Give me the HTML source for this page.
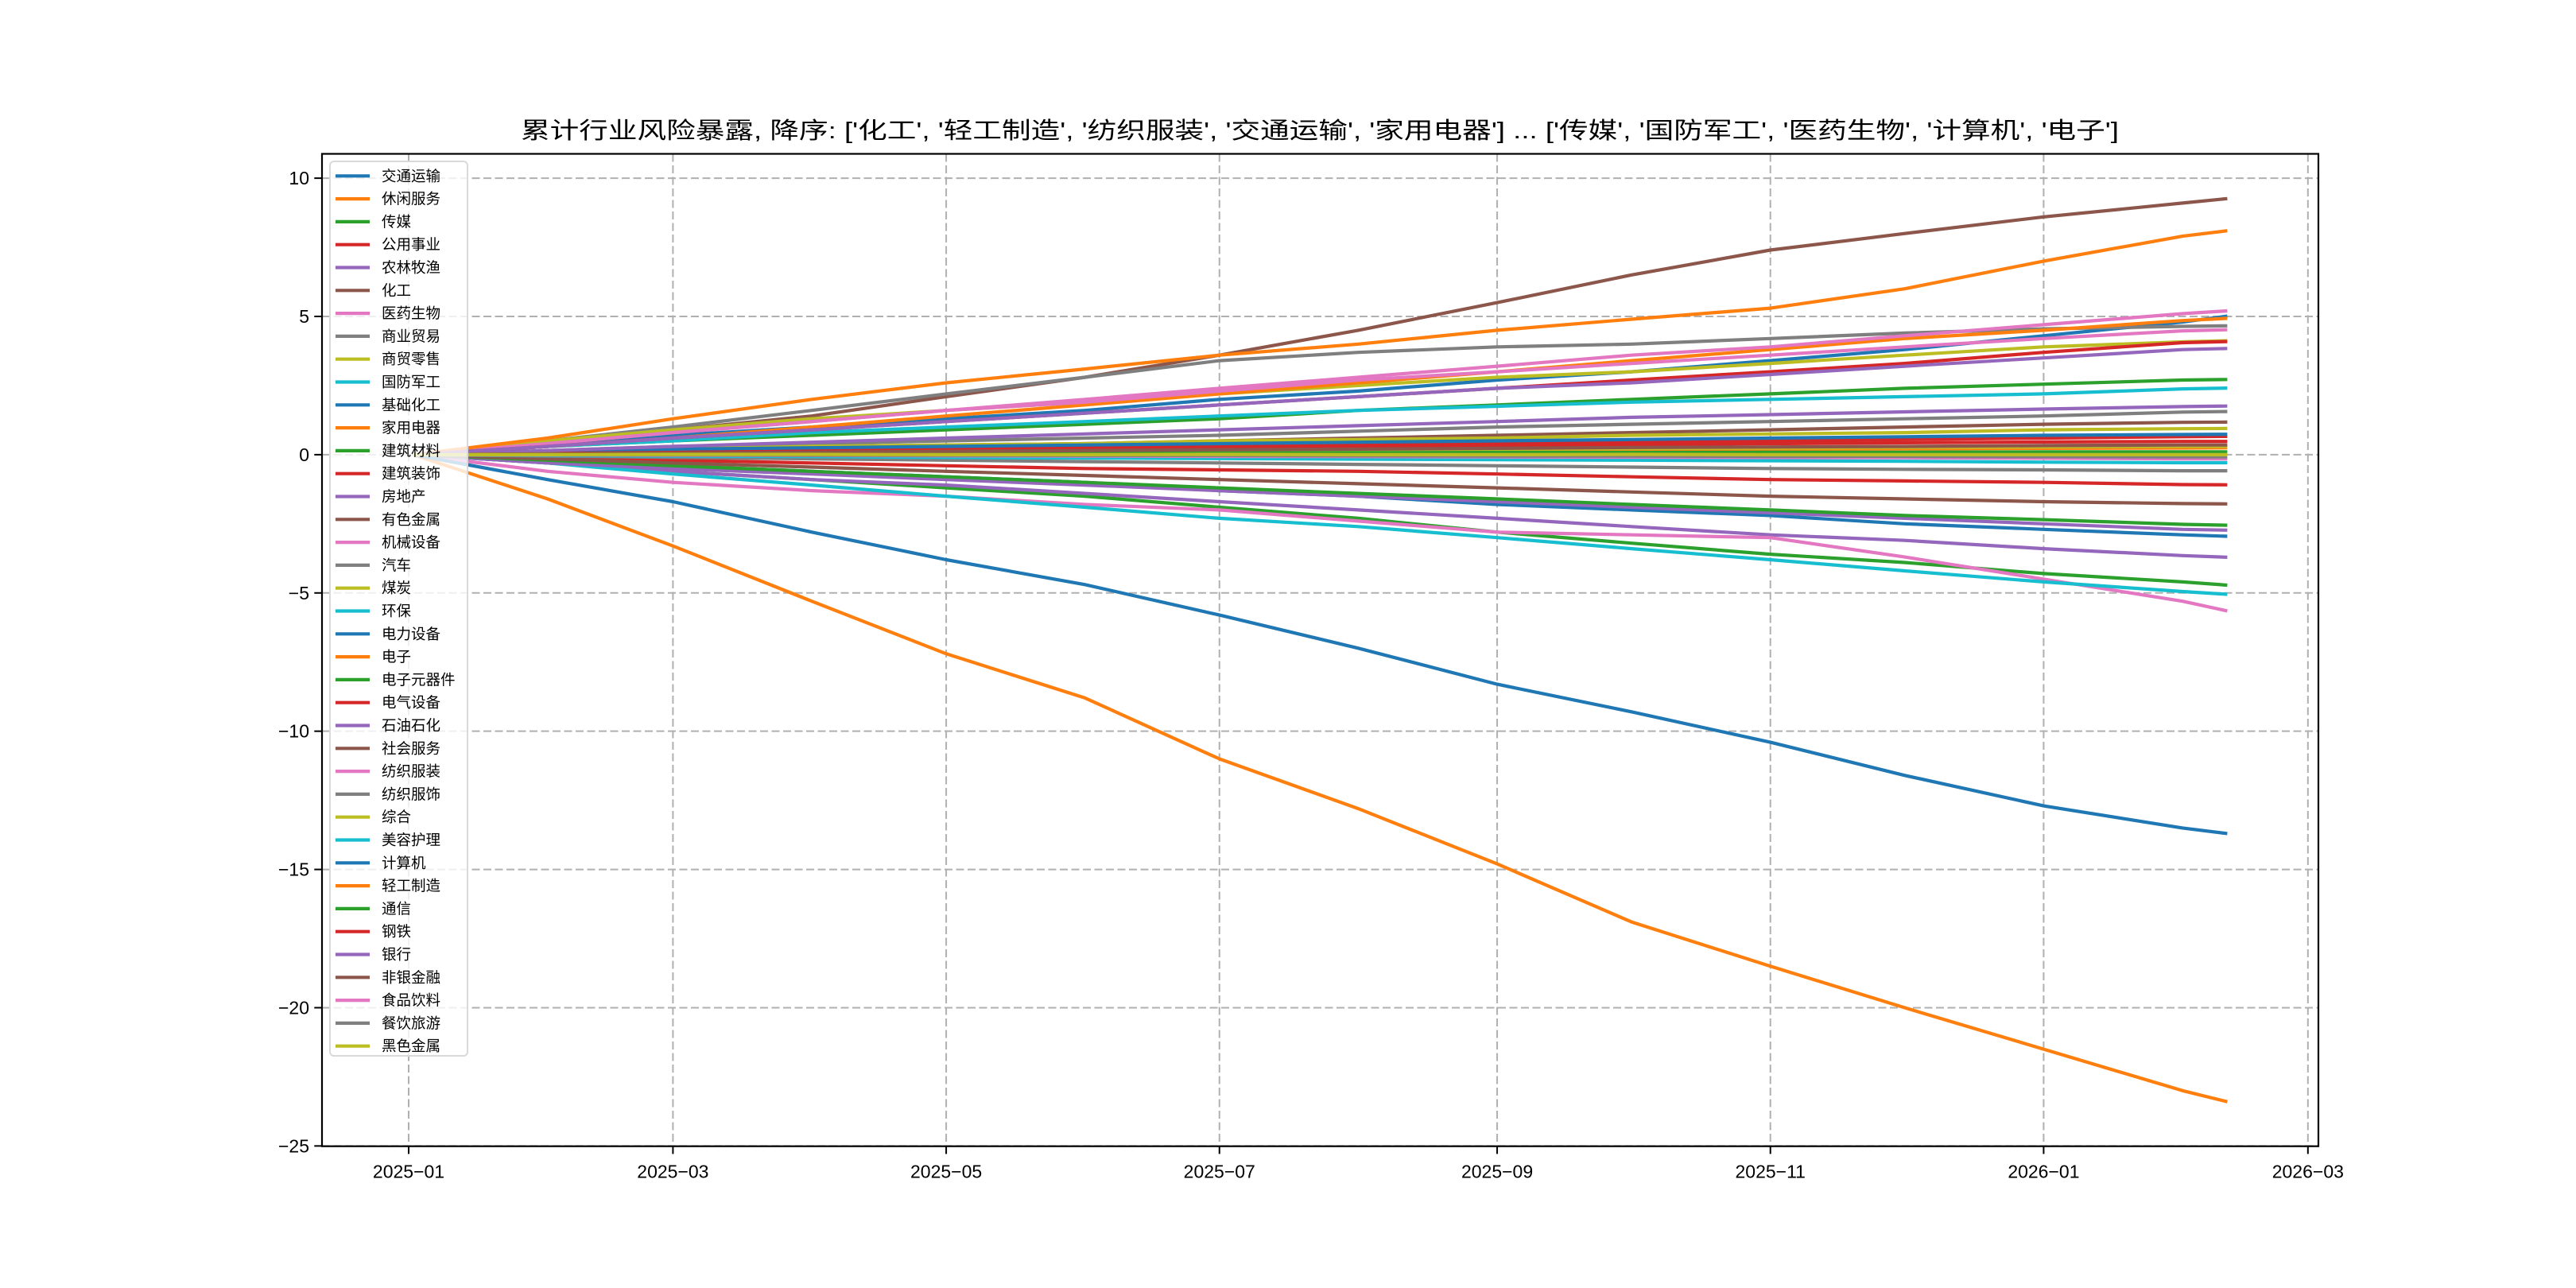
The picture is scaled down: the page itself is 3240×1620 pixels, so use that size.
<!DOCTYPE html>
<html><head><meta charset="utf-8"><title>累计行业风险暴露</title>
<style>
html,body{margin:0;padding:0;background:#fff;}
svg{display:block;font-family:"Liberation Sans","Noto Sans CJK SC","WenQuanYi Zen Hei",sans-serif;}
</style></head>
<body>
<svg id="chart" width="3240" height="1620" viewBox="0 0 3240 1620" xmlns="http://www.w3.org/2000/svg">
<rect x="0" y="0" width="3240" height="1620" fill="#fff"/>
<text x="1660" y="174" text-anchor="middle" font-size="29" textLength="2010" lengthAdjust="spacingAndGlyphs" fill="#000">累计行业风险暴露, 降序: ['化工', '轻工制造', '纺织服装', '交通运输', '家用电器'] ... ['传媒', '国防军工', '医药生物', '计算机', '电子']</text>
<g id="grid"></g>
<g id="lines"></g>
<g id="axes"></g>
<g id="legend"></g>
</svg>
<script>
const dates = ["2025-01-02","2025-02-01","2025-03-01","2025-04-01","2025-05-01","2025-06-01","2025-07-01","2025-08-01","2025-09-01","2025-10-01","2025-11-01","2025-12-01","2026-01-01","2026-02-01","2026-02-11"];
const names = ["交通运输","休闲服务","传媒","公用事业","农林牧渔","化工","医药生物","商业贸易","商贸零售","国防军工","基础化工","家用电器","建筑材料","建筑装饰","房地产","有色金属","机械设备","汽车","煤炭","环保","电力设备","电子","电子元器件","电气设备","石油石化","社会服务","纺织服装","纺织服饰","综合","美容护理","计算机","轻工制造","通信","钢铁","银行","非银金融","食品饮料","餐饮旅游","黑色金属"];
const s00 = [0,.3,.7,1.0,1.3,1.6,2.0,2.3,2.7,3.0,3.4,3.8,4.3,4.8,5.01];
const s01 = [0,.02,.04,.06,.08,.1,.12,.14,.16,.17,.19,.21,.23,.24,.25];
const s02 = [0,-.3,-.6,-.9,-1.2,-1.5,-1.9,-2.3,-2.8,-3.2,-3.6,-3.9,-4.3,-4.6,-4.72];
const s03 = [0,-.1,-.2,-.3,-.4,-.5,-.55,-.6,-.7,-.8,-.9,-.95,-1.0,-1.08,-1.09];
const s04 = [0,-.3,-.6,-.9,-1.1,-1.4,-1.7,-2.0,-2.3,-2.6,-2.9,-3.1,-3.4,-3.65,-3.71];
const s05 = [0,.4,.9,1.4,2.1,2.8,3.6,4.5,5.5,6.5,7.4,8.0,8.6,9.1,9.26];
const s06 = [0,-.6,-1.0,-1.3,-1.5,-1.8,-2.0,-2.4,-2.8,-2.9,-3.0,-3.7,-4.5,-5.3,-5.65];
const s07 = [0,.5,1.0,1.6,2.2,2.8,3.4,3.7,3.9,4.0,4.2,4.4,4.55,4.64,4.66];
const s08 = [0,.5,.9,1.3,1.6,1.9,2.2,2.5,2.8,3.0,3.3,3.6,3.9,4.08,4.12];
const s09 = [0,-.3,-.7,-1.1,-1.5,-1.9,-2.3,-2.6,-3.0,-3.4,-3.8,-4.2,-4.6,-4.95,-5.05];
const s10 = [0,-.2,-.4,-.6,-.8,-1.0,-1.3,-1.5,-1.8,-2.0,-2.2,-2.5,-2.7,-2.9,-2.95];
const s11 = [0,.3,.6,1.0,1.4,1.8,2.2,2.6,3.0,3.4,3.8,4.2,4.5,4.85,4.93];
const s12 = [0,.3,.5,.7,.9,1.1,1.3,1.6,1.8,2.0,2.2,2.4,2.55,2.7,2.72];
const s13 = [0,.05,.1,.15,.2,.25,.3,.35,.4,.45,.5,.55,.6,.65,.66];
const s14 = [0,-.3,-.5,-.7,-.9,-1.1,-1.3,-1.5,-1.7,-1.9,-2.1,-2.3,-2.5,-2.7,-2.73];
const s15 = [0,.1,.2,.3,.35,.4,.5,.6,.7,.8,.9,1.0,1.1,1.17,1.18];
const s16 = [0,.4,.8,1.2,1.6,1.9,2.3,2.7,3.0,3.3,3.6,3.9,4.2,4.48,4.52];
const s17 = [0,.15,.3,.4,.5,.6,.7,.85,1.0,1.1,1.2,1.3,1.4,1.54,1.56];
const s18 = [0,.1,.2,.3,.35,.4,.5,.55,.6,.7,.75,.8,.9,.94,.95];
const s19 = [0,.3,.5,.8,1.0,1.2,1.4,1.6,1.75,1.9,2.0,2.1,2.2,2.38,2.41];
const s20 = [0,.1,.2,.25,.3,.35,.4,.45,.5,.55,.6,.65,.7,.73,.74];
const s21 = [0,-1.6,-3.3,-5.3,-7.2,-8.8,-11.0,-12.8,-14.8,-16.9,-18.5,-20.0,-21.5,-23.0,-23.4];
const s22 = [0,-.2,-.4,-.6,-.8,-1.0,-1.2,-1.4,-1.6,-1.8,-2.0,-2.2,-2.35,-2.52,-2.55];
const s23 = [0,.05,.08,.12,.16,.2,.24,.28,.32,.36,.4,.43,.46,.48,.48];
const s24 = [0,.15,.3,.45,.6,.75,.9,1.05,1.2,1.35,1.45,1.55,1.65,1.74,1.76];
const s25 = [0,-.15,-.3,-.45,-.6,-.75,-.9,-1.05,-1.2,-1.35,-1.5,-1.6,-1.7,-1.77,-1.78];
const s26 = [0,.4,.8,1.2,1.6,2.0,2.4,2.8,3.2,3.6,3.9,4.3,4.7,5.1,5.2];
const s27 = [0,-.05,-.1,-.15,-.2,-.25,-.3,-.35,-.4,-.45,-.5,-.53,-.55,-.58,-.58];
const s28 = [0,.03,.05,.08,.1,.12,.15,.17,.2,.22,.24,.26,.28,.3,.3];
const s29 = [0,-.03,-.05,-.07,-.1,-.12,-.14,-.16,-.18,-.2,-.22,-.24,-.27,-.29,-.29];
const s30 = [0,-.9,-1.7,-2.8,-3.8,-4.7,-5.8,-7.0,-8.3,-9.3,-10.4,-11.6,-12.7,-13.5,-13.7];
const s31 = [0,.6,1.3,2.0,2.6,3.1,3.6,4.0,4.5,4.9,5.3,6.0,7.0,7.9,8.1];
const s32 = [0,.01,.02,.03,.04,.05,.06,.07,.08,.08,.09,.09,.1,.1,.1];
const s33 = [0,.3,.6,.9,1.2,1.5,1.8,2.1,2.4,2.7,3.0,3.3,3.7,4.05,4.09];
const s34 = [0,.3,.6,.9,1.2,1.5,1.8,2.1,2.4,2.6,2.9,3.2,3.5,3.8,3.84];
const s35 = [0,.03,.06,.09,.12,.15,.18,.2,.23,.26,.28,.3,.33,.35,.35];
const s36 = [0,-.01,-.02,-.03,-.04,-.05,-.06,-.07,-.08,-.09,-.1,-.11,-.13,-.15,-.15];
const s37 = [0,-.01,-.01,-.02,-.02,-.03,-.03,-.04,-.05,-.05,-.06,-.06,-.07,-.08,-.08];
const s38 = [0,0,.01,.01,0,0,.01,0,0,.01,0,0,0,0,0];
const series = [s00,s01,s02,s03,s04,s05,s06,s07,s08,s09,s10,s11,s12,s13,s14,s15,s16,s17,s18,s19,s20,s21,s22,s23,s24,s25,s26,s27,s28,s29,s30,s31,s32,s33,s34,s35,s36,s37,s38];
const yTicks = [10,5,0,-5,-10,-15,-20,-25];
const xTicks = ["2025-01","2025-03","2025-05","2025-07","2025-09","2025-11","2026-01","2026-03"];

const colors = ["#1f77b4","#ff7f0e","#2ca02c","#d62728","#9467bd","#8c564b","#e377c2","#7f7f7f","#bcbd22","#17becf"];
const AX = {l:405, r:2916, t:193.5, b:1441.7};
const DAY = 86400000;
const x0 = Date.UTC(2025,0,1), xPx0 = 514, pxPerDay = 5.634;
function xs(d){ const p=d.split("-").map(Number); const t=Date.UTC(p[0],p[1]-1,p[2]||1); return xPx0+(t-x0)/DAY*pxPerDay; }
const yMin=-25.01, yMax=10.88;
function ys(v){ return AX.b-(v-yMin)/(yMax-yMin)*(AX.b-AX.t); }
const NS="http://www.w3.org/2000/svg";
function mk(tag,attrs,parent){ const e=document.createElementNS(NS,tag); for(const k in attrs) e.setAttribute(k,attrs[k]); parent.appendChild(e); return e; }

const grid=document.getElementById("grid");
yTicks.forEach(v=>{ const g=mk("line",{x1:AX.l,x2:AX.r,y1:ys(v),y2:ys(v),stroke:"#b0b0b0","stroke-width":2,"stroke-dasharray":"10,4.5"},grid);

 });
xTicks.forEach(d=>{ const g=mk("line",{x1:xs(d),x2:xs(d),y1:AX.t,y2:AX.b,stroke:"#b0b0b0","stroke-width":2,"stroke-dasharray":"10,4.5"},grid);

 });

const lines=document.getElementById("lines");
series.forEach((s,i)=>{ const pts=s.map((v,j)=>xs(dates[j]).toFixed(1)+","+ys(v).toFixed(1)).join(" ");
const pl=mk("polyline",{points:pts,fill:"none",stroke:colors[i%10],"stroke-width":4.2,"stroke-linejoin":"round"},lines);

 });

const axes=document.getElementById("axes");
const frame=mk("rect",{x:AX.l,y:AX.t,width:AX.r-AX.l,height:AX.b-AX.t,fill:"none",stroke:"#000","stroke-width":2.2},axes);


yTicks.forEach(v=>{ const y=ys(v);
const tk=mk("line",{x1:AX.l-9.7,x2:AX.l,y1:y,y2:y,stroke:"#000","stroke-width":2},axes);


const t=mk("text",{x:AX.l-16,y:y+8,"text-anchor":"end","font-size":23,fill:"#000"},axes);
t.textContent=(v<0?"\u2212"+(-v):String(v));

 });
xTicks.forEach(d=>{ const x=xs(d);
const tk=mk("line",{x1:x,x2:x,y1:AX.b,y2:AX.b+9.7,stroke:"#000","stroke-width":2},axes);


const t=mk("text",{x:x,y:AX.b+40,"text-anchor":"middle","font-size":23,fill:"#000"},axes);
t.textContent=d.replace("-","\u2212");

 });

const leg=document.getElementById("legend");
const box=mk("rect",{x:415,y:203,width:173,height:1125,rx:5,fill:"#fff","fill-opacity":0.8,stroke:"#d9d9d9","stroke-width":2},leg);


names.forEach((n,i)=>{ const y=221.3+i*28.8;
const g=mk("g",{},leg);


mk("line",{x1:422,x2:465,y1:y,y2:y,stroke:colors[i%10],"stroke-width":4.2},g);
const t=mk("text",{x:480,y:y+6.5,"font-size":18.5,fill:"#000"},g);
t.textContent=n; });
</script>
</body></html>
